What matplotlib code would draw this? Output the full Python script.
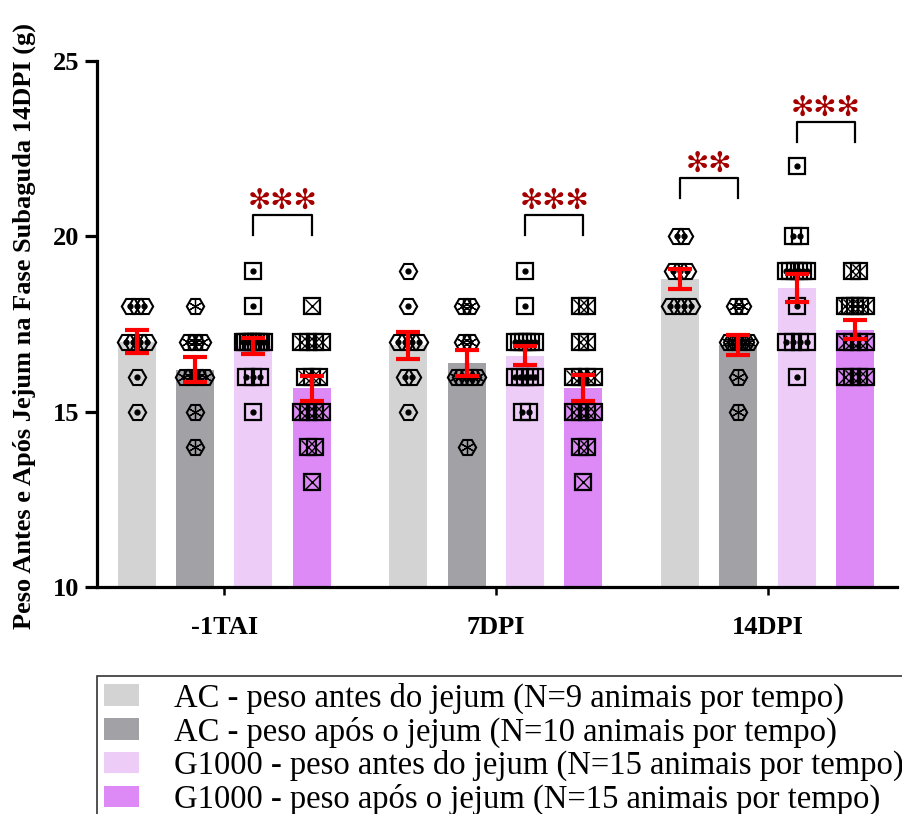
import numpy as np
import matplotlib
matplotlib.use('Agg')
import matplotlib.pyplot as plt
from matplotlib.patches import Patch

plt.rcParams['font.family'] = ['Liberation Serif', 'DejaVu Sans']

# time points and groups
times = ['-1TAI', '7DPI', '14DPI']
groups = ['AC - peso antes do jejum (N=9 animais por tempo)',
          'AC - peso após o jejum (N=10 animais por tempo)',
          'G1000 - peso antes do jejum (N=15 animais por tempo)',
          'G1000 - peso após o jejum (N=15 animais por tempo)']
colors = ['#D3D3D3', '#A2A1A6', '#EECCF8', '#DD8AF6']

# individual weights (g), one list per group, per time point
ac_antes = [
    [18, 18, 18, 17, 17, 17, 17, 16, 15],
    [19, 18, 17, 17, 17, 17, 16, 16, 15],
    [20, 20, 19, 19, 19, 18, 18, 18, 18],
]
ac_apos = [
    [18, 17, 17, 17, 16, 16, 16, 16, 15, 14],
    [18, 18, 17, 17, 16, 16, 16, 16, 16, 14],
    [18, 18, 17, 17, 17, 17, 17, 17, 16, 15],
]
g_antes = [
    [19, 18, 17, 17, 17, 17, 17, 17, 17, 17, 17, 16, 16, 16, 15],
    [19, 18, 17, 17, 17, 17, 17, 17, 16, 16, 16, 16, 16, 15, 15],
    [22, 20, 20, 19, 19, 19, 19, 19, 19, 18, 17, 17, 17, 17, 16],
]
g_apos = [
    [18, 17, 17, 17, 17, 16, 16, 16, 15, 15, 15, 15, 14, 14, 13],
    [18, 18, 17, 17, 16, 16, 16, 16, 15, 15, 15, 15, 14, 14, 13],
    [19, 19, 18, 18, 18, 18, 18, 17, 17, 17, 17, 16, 16, 16, 16],
]
all_data = [ac_antes, ac_apos, g_antes, g_apos]

# significance brackets: (time idx, group a, group b, bracket top, leg bottom, label)
sig = [
    (0, 2, 3, 20.6, 20.05, '✻✻✻'),
    (1, 2, 3, 20.6, 20.05, '✻✻✻'),
    (2, 0, 1, 21.65, 21.1, '✻✻'),
    (2, 2, 3, 23.25, 22.7, '✻✻✻'),
]

group_step = 4.66
offsets = [-1.5, -0.5, 0.5, 1.5]
bar_w = 0.65

fig = plt.figure(figsize=(9.03, 8.14), dpi=100)
ax = fig.add_axes([0.1074, 0.2789, 0.886, 0.6462])


def draw_points(ax, x0, vals, kind):
    vals = np.array(vals)
    for v in np.unique(vals):
        n = np.sum(vals == v)
        span = min((n - 1) * 0.12, 0.36)
        xs = x0 + (np.linspace(-span / 2, span / 2, n) if n > 1 else np.array([0.0]))
        ys = np.full(n, v, dtype=float)
        if kind < 2:
            ax.plot(xs, ys, 'H', ms=12.5, mfc='none', mec='black', mew=1.5, zorder=3)
        else:
            ax.plot(xs, ys, 's', ms=11.5, mfc='none', mec='black', mew=1.6, zorder=3)
        if kind == 0 or kind == 2:
            ax.plot(xs, ys, 'o', ms=3.5, color='black', zorder=3)
        elif kind == 1:
            ax.plot(xs, ys, marker=(6, 2, 0), ls='none', ms=10, mec='black', mew=0.9, zorder=3)
        else:
            ax.plot(xs, ys, 'x', ms=9.5, mec='black', mew=1.0, zorder=3)


for g, data in enumerate(all_data):
    for t in range(len(times)):
        x0 = t * group_step + offsets[g]
        vals = np.array(data[t], dtype=float)
        mean = vals.mean()
        sem = vals.std(ddof=1) / np.sqrt(len(vals))
        ax.bar(x0, mean - 10, bottom=10, width=bar_w, color=colors[g], zorder=1)
        draw_points(ax, x0, vals, g)
        ax.errorbar(x0, mean, yerr=sem, color='red', elinewidth=3, capsize=8.5,
                    capthick=3, zorder=4)

for t, a, b, top, leg, label in sig:
    xa = t * group_step + offsets[a]
    xb = t * group_step + offsets[b]
    ax.plot([xa, xa, xb, xb], [leg, top, top, leg], color='black', lw=1.6, zorder=2)
    ax.text((xa + xb) / 2, top + 0.02, label, ha='center', va='bottom', color='#A50000',
            fontsize=20, family='DejaVu Sans')

ax.set_xlim(-2.18, 11.54)
ax.set_ylim(10, 25)
ax.set_yticks([10, 15, 20, 25])
ax.set_xticks([t * group_step for t in range(len(times))])
ax.set_xticklabels(times)

for s in ['top', 'right']:
    ax.spines[s].set_visible(False)
for s in ['left', 'bottom']:
    ax.spines[s].set_linewidth(2.3)
ax.tick_params(axis='y', length=8.5, width=2.3, pad=4, labelsize=19)
ax.tick_params(axis='x', length=6, width=1.8, pad=15, labelsize=19)
for lab in ax.get_xticklabels() + ax.get_yticklabels():
    lab.set_fontweight('bold')

fig.text(24 / 903, 0.6, 'Peso Antes e Após Jejum na Fase Subaguda 14DPI (g)', rotation=90,
         ha='center', va='center', fontsize=19, fontweight='bold')

handles = [Patch(facecolor=c, edgecolor='none') for c in colors]
leg = fig.legend(handles, groups, loc='upper left', bbox_to_anchor=(97 / 903, 1 - 676 / 814),
                 fontsize=23.5, frameon=True, fancybox=False, edgecolor='black',
                 handlelength=1.1, handleheight=0.63, handletextpad=1.05,
                 labelspacing=0.08, borderpad=0.2, borderaxespad=0)
leg.get_frame().set_linewidth(1.2)

fig.savefig('out.png', dpi=100)
